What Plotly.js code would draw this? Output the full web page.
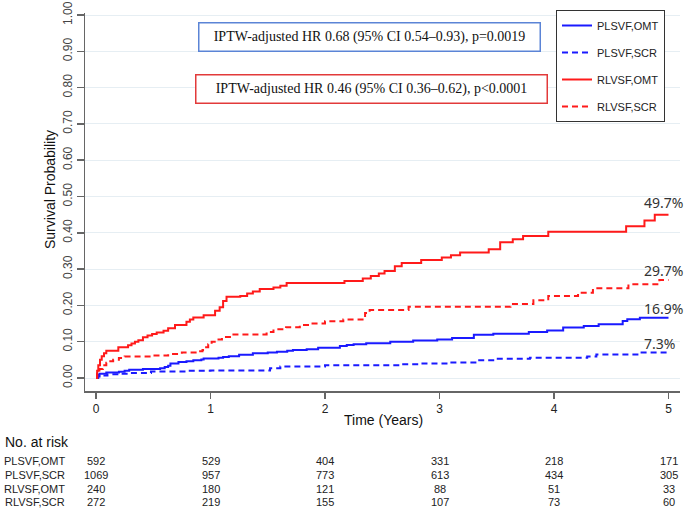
<!DOCTYPE html>
<html>
<head>
<meta charset="utf-8">
<script src="https://cdn.plot.ly/plotly-3.0.1.min.js"></script>
<style>html,body{margin:0;padding:0;background:#fff;}#chart{width:685px;height:513px;}</style>
</head>
<body>
<div id="chart"></div>
<script>
// ---- Data ----
const seriesNames = ["PLSVF,OMT", "PLSVF,SCR", "RLVSF,OMT", "RLVSF,SCR"];

const plsvfOmtTime = [0, 0.01, 0.03, 0.09, 0.2, 0.25, 0.29, 0.41, 0.56, 0.6, 0.63, 0.65, 0.72, 0.79, 0.85, 0.92, 0.94, 1.07, 1.11, 1.16, 1.25, 1.37, 1.5, 1.58, 1.67, 1.72, 1.84, 1.94, 2.13, 2.19, 2.25, 2.36, 2.57, 2.77, 2.98, 3.11, 3.30, 3.47, 3.78, 3.94, 4.08, 4.26, 4.39, 4.6, 4.64, 4.75, 5.0];
const plsvfOmtProb = [0, 0.008, 0.012, 0.015, 0.017, 0.02, 0.023, 0.025, 0.027, 0.03, 0.034, 0.04, 0.044, 0.046, 0.049, 0.051, 0.054, 0.056, 0.058, 0.06, 0.064, 0.068, 0.07, 0.072, 0.075, 0.077, 0.079, 0.083, 0.088, 0.091, 0.093, 0.096, 0.1, 0.103, 0.106, 0.11, 0.119, 0.122, 0.127, 0.131, 0.139, 0.143, 0.148, 0.157, 0.162, 0.166, 0.166];

const plsvfScrTime = [0, 0.02, 0.05, 0.1, 0.2, 0.3, 0.48, 0.79, 1.0, 1.52, 1.61, 2.0, 2.65, 2.82, 3.09, 3.33, 3.5, 3.79, 4.29, 4.37, 4.75, 5.0];
const plsvfScrProb = [0, 0.004, 0.007, 0.01, 0.012, 0.014, 0.018, 0.02, 0.021, 0.027, 0.032, 0.035, 0.038, 0.04, 0.043, 0.049, 0.053, 0.056, 0.059, 0.065, 0.07, 0.07];

const rlvsfOmtTime = [0, 0.01, 0.02, 0.035, 0.05, 0.07, 0.09, 0.195, 0.28, 0.31, 0.34, 0.37, 0.41, 0.45, 0.49, 0.53, 0.59, 0.63, 0.69, 0.79, 0.82, 0.85, 0.94, 1.04, 1.08, 1.11, 1.14, 1.26, 1.32, 1.37, 1.43, 1.55, 1.61, 1.665, 2.17, 2.33, 2.40, 2.47, 2.52, 2.61, 2.67, 2.84, 3.02, 3.10, 3.18, 3.43, 3.53, 3.64, 3.73, 3.95, 4.63, 4.79, 4.88, 5.0];
const rlvsfOmtProb = [0, 0.02, 0.035, 0.05, 0.06, 0.068, 0.075, 0.085, 0.09, 0.095, 0.1, 0.104, 0.112, 0.117, 0.121, 0.125, 0.13, 0.137, 0.146, 0.155, 0.161, 0.167, 0.173, 0.185, 0.195, 0.212, 0.224, 0.226, 0.233, 0.238, 0.245, 0.249, 0.254, 0.262, 0.267, 0.274, 0.281, 0.288, 0.295, 0.308, 0.317, 0.325, 0.332, 0.338, 0.346, 0.355, 0.374, 0.382, 0.391, 0.403, 0.418, 0.434, 0.45, 0.45];

const rlvsfScrTime = [0, 0.01, 0.03, 0.06, 0.09, 0.11, 0.15, 0.2, 0.25, 0.49, 0.63, 0.75, 0.87, 0.93, 0.95, 0.98, 1.01, 1.05, 1.10, 1.17, 1.49, 1.55, 1.66, 1.78, 1.87, 2.0, 2.16, 2.35, 2.39, 2.73, 3.62, 3.82, 3.95, 4.21, 4.34, 4.65, 4.92, 5.0];
const rlvsfScrProb = [0, 0.012, 0.025, 0.035, 0.042, 0.046, 0.05, 0.055, 0.059, 0.062, 0.066, 0.07, 0.074, 0.077, 0.085, 0.093, 0.1, 0.106, 0.113, 0.12, 0.127, 0.134, 0.14, 0.146, 0.15, 0.156, 0.161, 0.179, 0.187, 0.196, 0.204, 0.214, 0.226, 0.235, 0.247, 0.258, 0.27, 0.27];

const endLabels = ["16.9%", "7.3%", "49.7%", "29.7%"];

const riskTimes = [0, 1, 2, 3, 4, 5];
const riskPlsvfOmt = [592, 529, 404, 331, 218, 171];
const riskPlsvfScr = [1069, 957, 773, 613, 434, 305];
const riskRlvsfOmt = [240, 180, 121, 88, 51, 33];
const riskRlvsfScr = [272, 219, 155, 107, 73, 60];

const hrTexts = [
  "IPTW-adjusted HR 0.68 (95% CI 0.54\u20130.93), p=0.0019",
  "IPTW-adjusted HR 0.46 (95% CI 0.36\u20130.62), p<0.0001"
];

const yTickVals = [0, 0.1, 0.2, 0.3, 0.4, 0.5, 0.6, 0.7, 0.8, 0.9, 1.0];
const xTickVals = [0, 1, 2, 3, 4, 5];

// ---- Layout geometry ----
const W = 685, H = 513;
const M = {l: 85, r: 5, t: 13, b: 122};
const PW = W - M.l - M.r, PH = H - M.t - M.b;
const px2x = px => (px - M.l) / PW;
const px2y = py => (H - M.b - py) / PH;

const SANS = "Liberation Sans, Arial, sans-serif";
const SERIF = "Liberation Serif, Times New Roman, serif";

const series = [
  {name: seriesNames[0], t: plsvfOmtTime, p: plsvfOmtProb, color: "#1a1aff", dash: "solid", label: endLabels[0], ly: 308},
  {name: seriesNames[1], t: plsvfScrTime, p: plsvfScrProb, color: "#1a1aff", dash: "6px,4px", label: endLabels[1], ly: 343},
  {name: seriesNames[2], t: rlvsfOmtTime, p: rlvsfOmtProb, color: "#ff1a1a", dash: "solid", label: endLabels[2], ly: 202},
  {name: seriesNames[3], t: rlvsfScrTime, p: rlvsfScrProb, color: "#ff1a1a", dash: "6px,4px", label: endLabels[3], ly: 270}
];

const traces = series.map((s, i) => ({
  type: "scatter", mode: "lines", name: s.name, legendgroup: "g" + i,
  x: s.t, y: s.p,
  line: {shape: "hv", color: s.color, width: 2, dash: s.dash}
}));

const annotations = [];
// end percentage labels
series.forEach(s => {
  annotations.push({xref: "paper", yref: "paper", x: px2x(642), y: px2y(s.ly), xanchor: "left", yanchor: "middle",
    text: s.label, showarrow: false, font: {family: "Noto Sans, sans-serif", size: 14, color: "#333"}});
});
// HR boxes
annotations.push({xref: "paper", yref: "paper", x: px2x(369), y: px2y(37.5), xanchor: "center", yanchor: "middle",
  text: hrTexts[0], showarrow: false, font: {family: SERIF, size: 14, color: "#111"},
  width: 338, height: 25, bordercolor: "#5b84d6", borderwidth: 1.5, borderpad: 1, bgcolor: "#fff"});
annotations.push({xref: "paper", yref: "paper", x: px2x(371), y: px2y(89.5), xanchor: "center", yanchor: "middle",
  text: hrTexts[1], showarrow: false, font: {family: SERIF, size: 14, color: "#111"},
  width: 348, height: 25, bordercolor: "#e23a3a", borderwidth: 1.5, borderpad: 1, bgcolor: "#fff"});
// axis titles
annotations.push({xref: "paper", yref: "paper", x: px2x(50), y: px2y(190), xanchor: "center", yanchor: "middle",
  text: "Survival Probability", textangle: -90, showarrow: false, font: {family: SANS, size: 14, color: "#111"}});
annotations.push({xref: "paper", yref: "paper", x: px2x(383), y: px2y(420), xanchor: "center", yanchor: "middle",
  text: "Time (Years)", showarrow: false, font: {family: SANS, size: 14, color: "#111"}});
// risk table
annotations.push({xref: "paper", yref: "paper", x: px2x(3), y: px2y(442), xanchor: "left", yanchor: "middle",
  text: "No. at risk", showarrow: false, font: {family: SANS, size: 14, color: "#111"}});
const riskRows = [riskPlsvfOmt, riskPlsvfScr, riskRlvsfOmt, riskRlvsfScr];
const rowY = [461, 475, 489, 502];
riskRows.forEach((row, r) => {
  annotations.push({xref: "paper", yref: "paper", x: px2x(67), y: px2y(rowY[r]), xanchor: "right", yanchor: "middle",
    text: seriesNames[r], showarrow: false, font: {family: SANS, size: 11, color: "#222"}});
  row.forEach((n, k) => {
    annotations.push({xref: "x", yref: "paper", x: riskTimes[k], y: px2y(rowY[r]), xanchor: "center", yanchor: "middle",
      text: String(n), showarrow: false, font: {family: SANS, size: 11, color: "#222"}});
  });
});

const layout = {
  width: W, height: H,
  margin: M,
  paper_bgcolor: "#fff", plot_bgcolor: "#fff",
  showlegend: true,
  legend: {x: px2x(556), y: px2y(10), xanchor: "left", yanchor: "top",
    bordercolor: "#333", borderwidth: 1, bgcolor: "#fff",
    font: {family: SANS, size: 11, color: "#222"},
    traceorder: "grouped", tracegroupgap: 8, itemwidth: 30},
  xaxis: {range: [px2x(85) * 0 + (85 - 96) / 114.5, (680 - 96) / 114.5],
    tickvals: xTickVals, ticktext: xTickVals.map(String),
    showgrid: false, zeroline: false, showline: true, linecolor: "#666", linewidth: 1.5,
    ticks: "outside", ticklen: 6, tickcolor: "#666", tickwidth: 1.5,
    tickfont: {family: SANS, size: 12, color: "#222"}},
  yaxis: {range: [(378 - 391) / 363, (378 - 13) / 363],
    tickvals: yTickVals, ticktext: yTickVals.map(v => v.toFixed(2)),
    tickangle: -90,
    showgrid: true, gridcolor: "#e6eef3", gridwidth: 1, zeroline: false,
    showline: true, linecolor: "#666", linewidth: 1.5,
    ticks: "outside", ticklen: 7, tickcolor: "#666", tickwidth: 1.5,
    tickfont: {family: SANS, size: 12, color: "#444"}},
  annotations: annotations
};

Plotly.newPlot("chart", traces, layout, {displayModeBar: false, staticPlot: true});
</script>
</body>
</html>
